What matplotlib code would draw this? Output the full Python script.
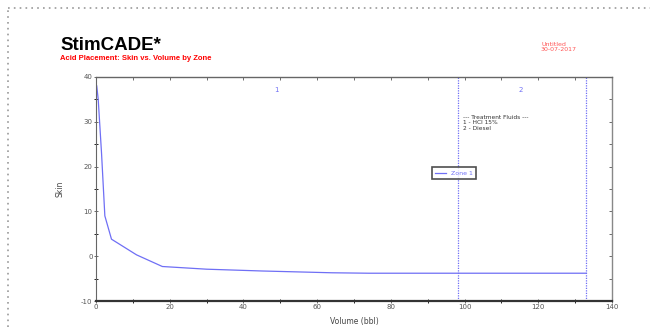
import matplotlib.pyplot as plt
from matplotlib.lines import Line2D

plt.rcParams['axes.unicode_minus'] = False

# curve
volume = [0.2, 0.6, 1.5, 2.4, 4.2, 11, 18, 30, 45, 64, 74, 133]
skin = [38, 35, 23, 9, 3.8, 0.3, -2.3, -2.9, -3.3, -3.7, -3.8, -3.8]

zone_bounds = [98.2, 133]
zone_names = ['1', '2']
zone_centers = [49, 115.3]
fluids = ['--- Treatment Fluids ---', '1 - HCl 15%', '2 - Diesel']

blue = '#6f6ff5'

fig = plt.figure(figsize=(6.5, 3.27), dpi=100)
ax = fig.add_axes([96/650, 1 - 301/327, (612-96)/650, (301-77)/327])

ax.plot(volume, skin, color=blue, lw=0.9, label='Zone 1')
for b in zone_bounds:
    ax.axvline(b, color=blue, lw=0.9, ls=(0, (1, 1)))
for c, n in zip(zone_centers, zone_names):
    ax.text(c, 37, n, color=blue, fontsize=5, ha='center', va='center')

ax.text(99.5, 31.5, '\n'.join(fluids), fontsize=4.2, color='#333333',
        va='top', ha='left', linespacing=1.1)

ax.set_xlim(0, 140)
ax.set_ylim(-10, 40)
ax.set_xticks(range(0, 141, 20))
ax.set_xticks(range(0, 141, 10), minor=True)
ax.set_yticks(range(-10, 41, 10))
ax.set_yticks(range(-10, 41, 5), minor=True)
ax.tick_params(labelsize=5, colors='#555555', length=3, width=0.6,
               direction='inout', pad=1)
ax.tick_params(which='minor', length=2.5, width=0.6, direction='inout')

# top / right: short inward ticks, no labels
sec_x = ax.secondary_xaxis('top')
sec_x.set_xticks(range(0, 141, 10))
sec_x.tick_params(direction='in', length=2, width=0.6, labeltop=False, colors='#555555')
sec_x.spines['top'].set_visible(False)
sec_y = ax.secondary_yaxis('right')
sec_y.set_yticks(range(-10, 41, 5))
sec_y.tick_params(direction='in', length=2, width=0.6, labelright=False, colors='#555555')
sec_y.spines['right'].set_visible(False)

ax.set_xlabel('Volume (bbl)', fontsize=5.5, color='#444444', labelpad=5)
ax.set_ylabel('Skin', fontsize=5.5, color='#444444', labelpad=12)

ax.spines['bottom'].set_linewidth(1.6)
ax.spines['bottom'].set_color('#333333')
ax.spines['left'].set_color('#666666')
ax.spines['left'].set_linewidth(0.8)
ax.spines['right'].set_color('#888888')
ax.spines['right'].set_linewidth(1.0)
ax.spines['top'].set_color('#666666')
ax.spines['top'].set_linewidth(1.0)

leg = ax.legend(handles=[Line2D([], [], color=blue, lw=0.9)], labels=['Zone 1'],
                loc='center', bbox_to_anchor=((454-96)/516, (301-173)/224),
                fontsize=4.5, frameon=True, fancybox=False, handlelength=1.8,
                borderpad=0.5, labelcolor=blue)
leg.get_frame().set_edgecolor('#222222')
leg.get_frame().set_linewidth(1.2)

fig.text(60/650, 1 - 46/327, 'StimCADE*', fontsize=13.5, fontweight='bold',
         va='center', ha='left', family='Liberation Sans')
fig.text(60/650, 1 - 58/327, 'Acid Placement: Skin vs. Volume by Zone', fontsize=5.5,
         fontweight='bold', color='red', va='center', ha='left', family='Liberation Sans')
fig.text(541/650, 1 - 47/327, 'Untitled\n30-07-2017', fontsize=4.5, color='#ff5555',
         va='center', ha='left', linespacing=1.0)

# dotted page border
fig.add_artist(Line2D([8/650, 1], [1 - 8/327, 1 - 8/327], color='#999999', lw=1.2,
                      ls=(0, (1, 2.5)), transform=fig.transFigure))
fig.add_artist(Line2D([8/650, 8/650], [0, 1 - 8/327], color='#999999', lw=1.2,
                      ls=(0, (1, 2.5)), transform=fig.transFigure))

fig.savefig('out.png', dpi=100)
